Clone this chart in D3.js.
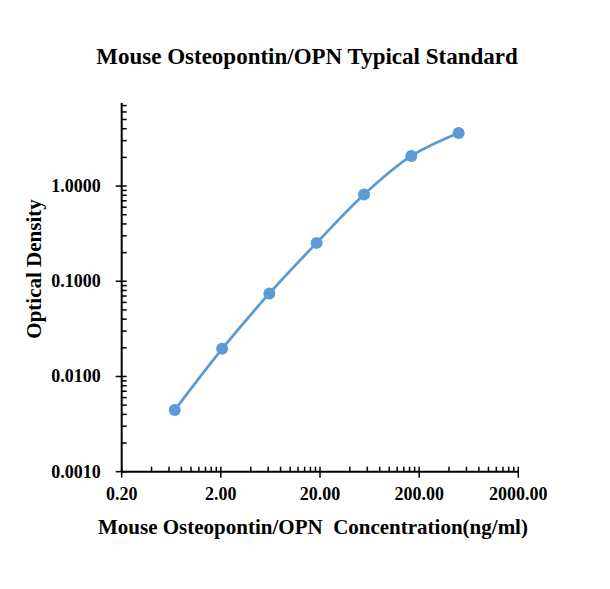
<!DOCTYPE html>
<html>
<head>
<meta charset="utf-8">
<script src="https://cdn.jsdelivr.net/npm/d3@7"></script>
<style>
  body { margin: 0; background: #fff; }
  text { font-family: "Liberation Serif", "Times New Roman", serif; font-weight: bold; fill: #000; }
</style>
</head>
<body>
<svg id="chart" width="610" height="589"></svg>
<script>
// standard curve points
const conc = [0.686, 2.06, 6.17, 18.5, 55.6, 166.7, 500];
const od = [0.00444, 0.0195, 0.0745, 0.253, 0.815, 2.07, 3.61];
const xTickVals = [0.2, 2, 20, 200, 2000];
const xTickLabels = ["0.20", "2.00", "20.00", "200.00", "2000.00"];
const yTickVals = [0.001, 0.01, 0.1, 1];
const yTickLabels = ["0.0010", "0.0100", "0.1000", "1.0000"];

const svg = d3.select("#chart");
const blue = "#5b9bd5";

const x = d3.scaleLog().domain([0.2, 2000]).range([121.7, 518.3]);
const y = d3.scaleLog().domain([0.001, 7.45]).range([471.7, 103]);

// minor ticks (inside) - excel style 1..9 per decade
const xMinor = [];
for (let d = 0.2; d < 2000; d *= 10)
  for (let k = 2; k <= 9; k++) xMinor.push(d * k);
const yMinor = [];
for (let d = 0.001; d < 7.45; d *= 10)
  for (let k = 2; k <= 9; k++) if (d * k <= 7.45) yMinor.push(d * k);

const g = svg.append("g");

// x axis
const xAxis = g.append("g").attr("transform", "translate(0," + y.range()[0] + ")");
xAxis.append("line").attr("x1", x.range()[0]).attr("x2", x.range()[1])
  .attr("stroke", "#000").attr("stroke-width", 2);
xAxis.selectAll(".xmin").data(xMinor).enter().append("line")
  .attr("x1", d => x(d)).attr("x2", d => x(d)).attr("y1", 0).attr("y2", -5)
  .attr("stroke", "#000").attr("stroke-width", 1.5);
xAxis.selectAll(".xmaj").data(xTickVals).enter().append("line")
  .attr("x1", d => x(d)).attr("x2", d => x(d)).attr("y1", -5).attr("y2", 6)
  .attr("stroke", "#000").attr("stroke-width", 1.5);
xAxis.selectAll(".xlab").data(xTickVals).enter().append("text")
  .attr("x", d => x(d)).attr("y", 28.5).attr("text-anchor", "middle")
  .attr("font-size", "18px")
  .text((d, i) => xTickLabels[i]);

// y axis
const yAxis = g.append("g").attr("transform", "translate(" + x.range()[0] + ",0)");
yAxis.append("line").attr("y1", y.range()[0]).attr("y2", y.range()[1])
  .attr("stroke", "#000").attr("stroke-width", 2);
yAxis.selectAll(".ymin").data(yMinor).enter().append("line")
  .attr("y1", d => y(d)).attr("y2", d => y(d)).attr("x1", 0).attr("x2", 5)
  .attr("stroke", "#000").attr("stroke-width", 1.5);
yAxis.selectAll(".ymaj").data(yTickVals).enter().append("line")
  .attr("y1", d => y(d)).attr("y2", d => y(d)).attr("x1", -6).attr("x2", 5)
  .attr("stroke", "#000").attr("stroke-width", 1.5);
yAxis.selectAll(".ylab").data(yTickVals).enter().append("text")
  .attr("x", -21).attr("y", d => y(d) + 6).attr("text-anchor", "end")
  .attr("font-size", "18px")
  .text((d, i) => yTickLabels[i]);

// smoothed line + markers
const pts = conc.map((c, i) => [c, od[i]]);
const line = d3.line().x(d => x(d[0])).y(d => y(d[1])).curve(d3.curveCatmullRom.alpha(0.5));
g.append("path").attr("d", line(pts)).attr("fill", "none")
  .attr("stroke", blue).attr("stroke-width", 2.75);
g.selectAll(".dot").data(pts).enter().append("circle")
  .attr("cx", d => x(d[0])).attr("cy", d => y(d[1])).attr("r", 6)
  .attr("fill", blue);

// titles
svg.append("text").attr("x", 307).attr("y", 64).attr("text-anchor", "middle")
  .attr("font-size", "23px").text("Mouse Osteopontin/OPN Typical Standard");
svg.append("text").attr("x", 313).attr("y", 534).attr("text-anchor", "middle")
  .attr("font-size", "21px").attr("xml:space", "preserve")
  .style("white-space", "pre")
  .text("Mouse Osteopontin/OPN  Concentration(ng/ml)");
svg.append("text").attr("transform", "translate(41,269) rotate(-90)")
  .attr("text-anchor", "middle").attr("font-size", "21px").text("Optical Density");
</script>
</body>
</html>
